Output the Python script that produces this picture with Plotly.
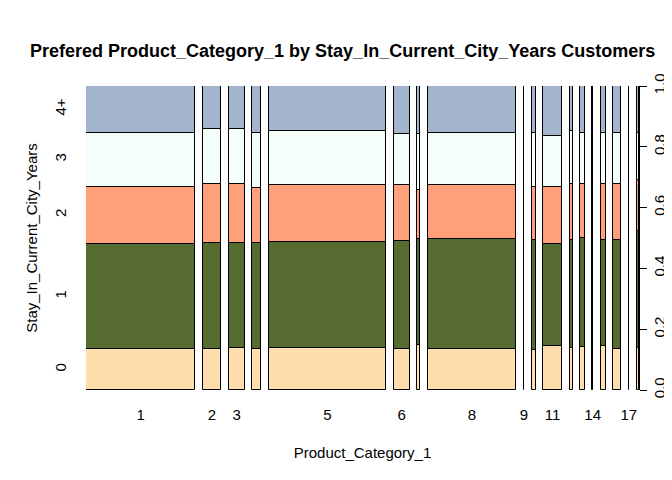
import plotly.graph_objects as go

categories = [str(i) for i in range(1, 19)]
counts = [138353, 23499, 19849, 11567, 148592, 20164, 3668, 112132, 404,
          5032, 23960, 3875, 5440, 1500, 6203, 9697, 567, 3075]
levels = ["0", "1", "2", "3", "4+"]
colors = ["#FFDEAD", "#556B2F", "#FFA07A", "#F5FFFA", "#A2B5CD"]
# cumulative boundaries (tops of levels 0..3) per category
cum = [
    [0.134, 0.481, 0.669, 0.847],
    [0.134, 0.485, 0.679, 0.857],
    [0.137, 0.485, 0.679, 0.857],
    [0.134, 0.485, 0.665, 0.846],
    [0.137, 0.488, 0.676, 0.851],
    [0.134, 0.491, 0.673, 0.841],
    [0.148, 0.497, 0.658, 0.843],
    [0.134, 0.497, 0.676, 0.844],
    [0.136, 0.490, 0.672, 0.848],
    [0.131, 0.493, 0.669, 0.846],
    [0.145, 0.481, 0.669, 0.834],
    [0.137, 0.493, 0.679, 0.851],
    [0.142, 0.500, 0.679, 0.846],
    [0.136, 0.490, 0.672, 0.848],
    [0.145, 0.493, 0.679, 0.846],
    [0.134, 0.493, 0.679, 0.844],
    [0.136, 0.490, 0.672, 0.848],
    [0.137, 0.524, 0.691, 0.847],
]
shown_ticks = ["1", "2", "3", "5", "6", "8", "9", "11", "14", "17"]

gap = 9600
starts, pos = [], 0
for c in counts:
    starts.append(pos)
    pos += c + gap
x_end = starts[-1] + counts[-1]
centers = [s + c / 2 for s, c in zip(starts, counts)]

fig = go.Figure()
for k, lev in enumerate(levels):
    base = [0 if k == 0 else row[k - 1] for row in cum]
    top = [row[k] if k < 4 else 1.0 for row in cum]
    fig.add_trace(go.Bar(
        x=centers, width=counts, base=base,
        y=[t - b for t, b in zip(top, base)],
        marker=dict(color=colors[k], line=dict(color="black", width=1)),
        name=lev, showlegend=False, hoverinfo="skip",
    ))

# invisible trace to activate right axis
fig.add_trace(go.Scatter(x=[x_end], y=[0], yaxis="y2", mode="markers",
                         marker=dict(opacity=0), showlegend=False, hoverinfo="skip"))

c1 = [0] + cum[0] + [1.0]
left_pos = [(c1[i] + c1[i + 1]) / 2 for i in range(5)]

font = dict(family="Liberation Sans, Arial", size=15, color="black")
fig.update_layout(
    width=672, height=480,
    margin=dict(l=78, r=41, t=78, b=98),
    paper_bgcolor="white", plot_bgcolor="white",
    barmode="overlay", bargap=0,
    font=font,
    xaxis=dict(range=[0, x_end], showgrid=False, zeroline=False, showline=False,
               automargin=False,
               tickvals=[centers[categories.index(t)] for t in shown_ticks],
               ticktext=shown_ticks, ticks="", tickfont=font, ticklabelstandoff=14,
               title=dict(text="Product_Category_1", font=font, standoff=25)),
    yaxis=dict(range=[0, 1], showgrid=False, zeroline=False, showline=False,
               automargin=False,
               tickvals=left_pos, ticktext=levels, tickangle=-90, ticks="",
               ticklabelstandoff=16, tickfont=font,
               title=dict(text="Stay_In_Current_City_Years", font=font, standoff=10)),
    yaxis2=dict(range=[0, 1], overlaying="y", side="right", showgrid=False,
                automargin=False,
                zeroline=False, showline=True, linecolor="black", linewidth=1,
                tickvals=[0, 0.2, 0.4, 0.6, 0.8, 1.0],
                ticktext=["0.0", "0.2", "0.4", "0.6", "0.8", "1.0"],
                ticks="outside", ticklen=7, tickcolor="black",
                tickangle=-90, tickfont=font),
    annotations=[dict(
        text="<b>Prefered Product_Category_1 by Stay_In_Current_City_Years Customers</b>",
        xref="paper", yref="paper", x=-0.105, y=1.115, xanchor="left", yanchor="middle",
        showarrow=False, font=dict(family="Liberation Sans, Arial", size=18, color="black"),
    )],
)

fig.write_html("out.html")
